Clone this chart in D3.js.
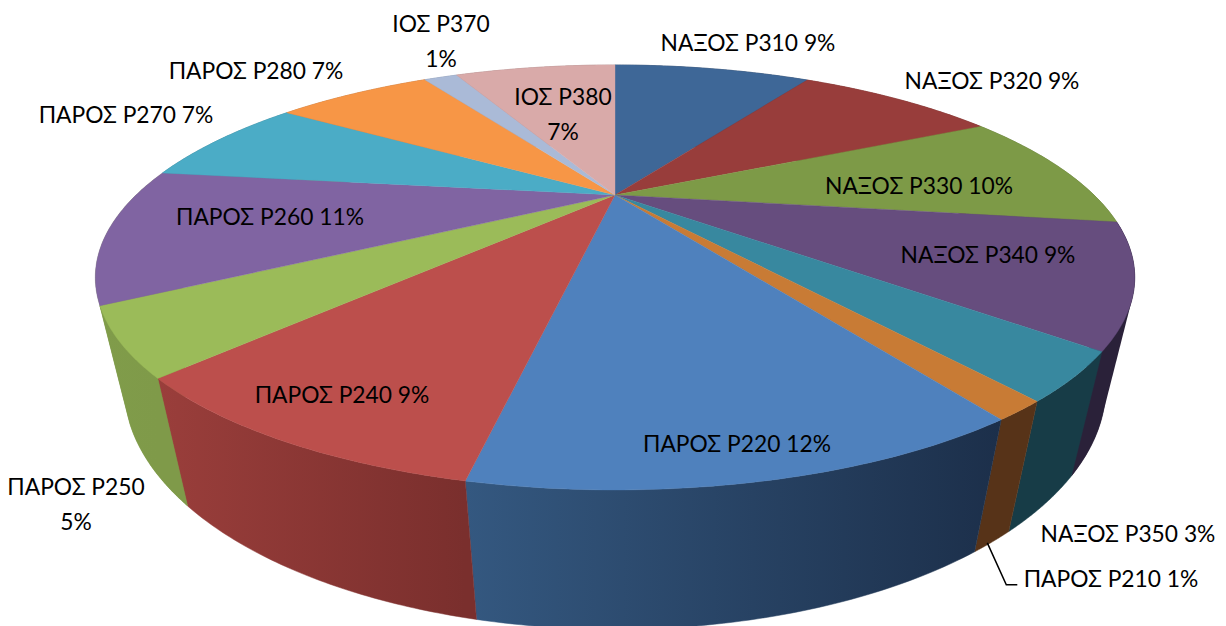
<!DOCTYPE html>
<html><head><meta charset="utf-8">
<style>html,body{margin:0;padding:0;background:#fff;overflow:hidden}svg{display:block}text{font-family:Lato,"Open Sans","Noto Sans",sans-serif;font-size:22.8px;fill:#000;text-anchor:middle}</style>
<script src="https://cdn.jsdelivr.net/npm/d3@7/dist/d3.min.js"></script>
</head><body><svg id="c" width="1226" height="626"></svg>
<script>
const categories=["ΝΑΞΟΣ Ρ310","ΝΑΞΟΣ Ρ320","ΝΑΞΟΣ Ρ330","ΝΑΞΟΣ Ρ340","ΝΑΞΟΣ Ρ350","ΠΑΡΟΣ Ρ210","ΠΑΡΟΣ Ρ220","ΠΑΡΟΣ Ρ240","ΠΑΡΟΣ Ρ250","ΠΑΡΟΣ Ρ260","ΠΑΡΟΣ Ρ270","ΠΑΡΟΣ Ρ280","ΙΟΣ Ρ370","ΙΟΣ Ρ380"];
const values=[8.95,8.7,9.6,9.0,3.3,1.3,12.25,8.9,4.75,10.3,7.3,6.8,1.5,7.35];
const percentLabels=["9%","9%","10%","9%","3%","1%","12%","9%","5%","11%","7%","7%","1%","7%"];
const topColors=["#3e6797","#983d3b","#7d9a47","#664d7e","#38889f","#c87b35","#4f81bd","#bc4f4c","#9bbb59","#8064a2","#4bacc6","#f79646","#aabad7","#d9aaa9"];
const sideStart=["#2b3f5c","#6e2c2a","#5a7033","#2a2139","#173c47","#573318","#345880","#9a3e3b","#809c4a","#5c4875","#367c8e","#b36c32","#7b87a0","#9e7b7a"];
const sideEnd=["#2b3f5c","#6e2c2a","#5a7033","#2a2139","#173c47","#573318","#1c2f4a","#7a2f2d","#7f9a49","#5c4875","#367c8e","#b36c32","#7b87a0","#9e7b7a"];
const labelPos=[[748,51],[992,89],[919,194],[988,263],[1128,542],[1111,587],[737,452],[342,403],[76,495],[270,225],[126,123],[256,79],[441,32],[563,105]];
const labelBreak=[0,0,0,0,0,0,0,0,1,0,0,0,1,1];

const W=1226,H=626,cx=615,cy=195;
const B=479,A=180.5,k=0.388,C=107,m=0.05;
const project=(a,r,h)=>{const u=Math.sin(a)*r,v=-Math.cos(a)*r,w=1-k*v+m*h;return [cx+B*u/w,cy+(A*v+C*h)/w];};
const svg=d3.select("#c");
const defs=svg.append("defs");
const arcs=d3.pie().sort(null).value(d=>d)(values);
const line=d3.line();
const samples=(d)=>d3.range(0,61).map(i=>d.startAngle+(d.endAngle-d.startAngle)*i/60);
arcs.forEach((d,i)=>{
  const as=samples(d);
  const top=as.map(a=>project(a,1,0)),bot=as.map(a=>project(a,1,1));
  const g=defs.append("linearGradient").attr("id","g"+i).attr("gradientUnits","userSpaceOnUse")
    .attr("x1",d3.min(top,p=>p[0])).attr("x2",d3.max(top,p=>p[0])).attr("y1",0).attr("y2",0);
  g.append("stop").attr("offset",0).attr("stop-color",sideStart[i]);
  g.append("stop").attr("offset",1).attr("stop-color",sideEnd[i]);
  d.top=top;d.bot=bot;
});
const sides=svg.append("g");
// silhouette fill: tangent edges of the extruded rim on the far left and right
const rim=i=>arcs[i].top.concat(arcs[i].bot);
const hullGroups=[[[8,9],8],[[3],3]];
hullGroups.forEach(([ids,c])=>{
  const hull=d3.polygonHull(ids.flatMap(rim));
  sides.append("path").attr("d",line(hull)+"Z").attr("fill",sideStart[c]);
});
arcs.forEach((d,i)=>{
  if(i===9) return;
  const fill=`url(#g${i})`;
  sides.append("path").attr("d",line(d.top.concat(d.bot.slice().reverse()))+"Z").attr("fill",fill).attr("stroke",fill).attr("stroke-width",0.5);
});
const tops=svg.append("g");
arcs.forEach((d,i)=>{
  tops.append("path").attr("d",line([[cx,cy]].concat(d.top))+"Z").attr("fill",topColors[i]).attr("stroke",topColors[i]).attr("stroke-width",0.4);
});
// leader line from the ΠΑΡΟΣ Ρ210 side to its label
const r210=arcs[5],mid=(r210.startAngle+r210.endAngle)/2,base=project(mid,1,1);
svg.append("path").attr("d",line([[base[0]-5,base[1]+1],[base[0]+14,base[1]+43],[base[0]+25,base[1]+43]])).attr("fill","none").attr("stroke","#000").attr("stroke-width",1.5);
const labels=svg.append("g");
categories.forEach((c,i)=>{
  const t=labels.append("text").attr("x",labelPos[i][0]).attr("y",labelPos[i][1]);
  if(labelBreak[i]){
    t.append("tspan").attr("x",labelPos[i][0]).text(c);
    t.append("tspan").attr("x",labelPos[i][0]).attr("dy",35).text(percentLabels[i]);
  } else t.text(c+" "+percentLabels[i]);
});
</script></body></html>
